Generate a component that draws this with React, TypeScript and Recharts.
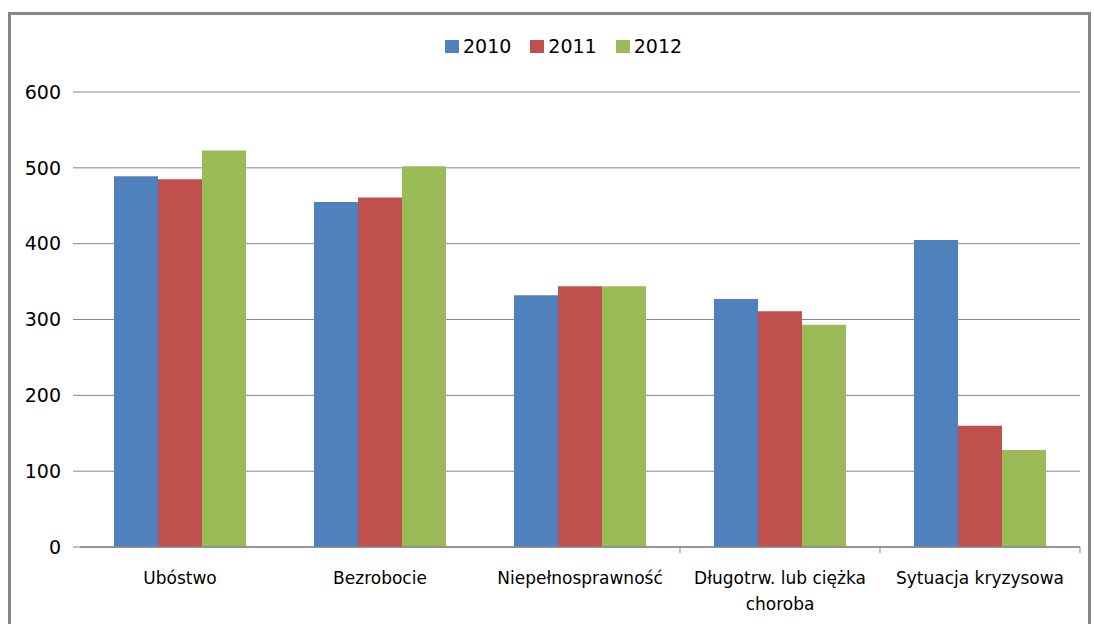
import React from 'react';
import { BarChart, Bar, XAxis, YAxis, CartesianGrid } from 'recharts';

const categories = ['Ubóstwo', 'Bezrobocie', 'Niepełnosprawność', 'Długotrw. lub ciężka|choroba', 'Sytuacja kryzysowa'];
const values2010 = [489, 455, 332, 327, 405];
const values2011 = [485, 461, 344, 311, 160];
const values2012 = [523, 502, 344, 293, 128];
const yTicks = [0, 100, 200, 300, 400, 500, 600];

const series = [
  { key: 'y2010', name: '2010', color: '#4F81BD' },
  { key: 'y2011', name: '2011', color: '#C0504D' },
  { key: 'y2012', name: '2012', color: '#9BBB59' },
];

const data = categories.map((c, i) => ({
  name: c,
  y2010: values2010[i],
  y2011: values2011[i],
  y2012: values2012[i],
}));

const W = 1094;
const H = 624;
const margin = { top: 92, right: 14, left: 10, bottom: 47 };
const BAND = (W - margin.left - margin.right - 70) / categories.length;
const FONT = '"DejaVu Sans", sans-serif';
const GRAY = '#868686';

const CategoryTick = (props: any) => {
  const { x, y, payload, index } = props;
  const lines = String(payload.value).split('|');
  return (
    <g>
      {index >= 2 && (
        <line x1={x + BAND / 2} y1={y} x2={x + BAND / 2} y2={y + 6} stroke={GRAY} strokeWidth={1} />
      )}
      {lines.map((l, i) => (
        <text key={i} x={x} y={y + 37 + i * 26} textAnchor="middle" fill="#000" fontSize={17} fontFamily={FONT}>
          {l}
        </text>
      ))}
    </g>
  );
};

// legend drawn as plain html so it does not shift the plot area
const ChartLegend = () => (
  <div
    style={{
      position: 'absolute',
      left: 445,
      top: 35,
      display: 'flex',
      alignItems: 'center',
      fontFamily: FONT,
      fontSize: 19,
      color: '#000',
    }}
  >
    {series.map((s) => (
      <div key={s.key} style={{ display: 'flex', alignItems: 'center', marginRight: 19 }}>
        <span style={{ display: 'inline-block', width: 14, height: 13, background: s.color, marginRight: 4 }} />
        <span>{s.name}</span>
      </div>
    ))}
  </div>
);

export default function App() {
  return (
    <div style={{ position: 'absolute', left: 0, top: 0, width: W, height: H, background: '#fff', overflow: 'hidden' }}>
      <div
        style={{
          position: 'absolute',
          left: 8,
          top: 12,
          width: W - 8 - 3 - 6,
          height: H,
          border: `3px solid ${GRAY}`,
          boxSizing: 'content-box',
        }}
      />
      <div style={{ position: 'absolute', left: 0, top: 0 }}>
        <BarChart width={W} height={H} data={data} margin={margin} barGap={0} barCategoryGap="17%">
          <CartesianGrid vertical={false} stroke={GRAY} strokeWidth={1} />
          <XAxis
            dataKey="name"
            height={30}
            axisLine={{ stroke: GRAY, strokeWidth: 1.5 }}
            tickLine={false}
            tickSize={0}
            tickMargin={0}
            interval={0}
            tick={<CategoryTick />}
          />
          <YAxis
            width={70}
            domain={[0, 600]}
            ticks={yTicks}
            axisLine={false}
            tickLine={{ stroke: GRAY }}
            tickSize={7}
            tickMargin={12}
            tick={{ fill: '#000', fontSize: 19, fontFamily: FONT }}
          />
          {series.map((s) => (
            <Bar key={s.key} dataKey={s.key} name={s.name} fill={s.color} isAnimationActive={false} />
          ))}
        </BarChart>
      </div>
      <ChartLegend />
    </div>
  );
}
